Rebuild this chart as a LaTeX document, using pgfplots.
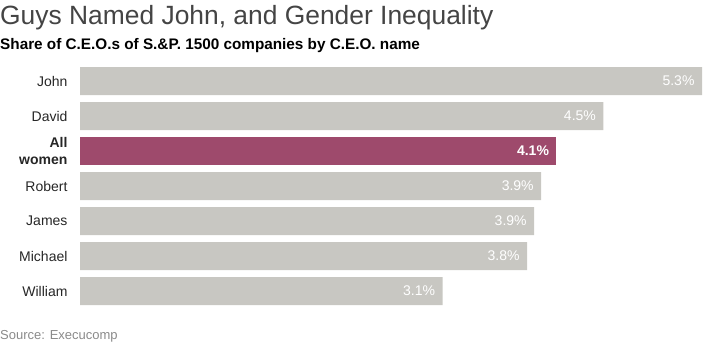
\documentclass[border=0pt]{standalone}
\usepackage{pgfplots}
\pgfplotsset{compat=1.18}
\usepackage{fontspec}
\setmainfont{Liberation Sans}
\definecolor{bargray}{HTML}{C8C7C2}
\definecolor{women}{HTML}{9E4A6C}
\definecolor{titlegray}{HTML}{444444}
\definecolor{srcgray}{HTML}{8A8A8A}
\begin{document}
\begin{tikzpicture}[x=1pt,y=1pt]
\path[use as bounding box] (0,0) rectangle (703,343);
\node[anchor=base west, inner sep=0pt, text=titlegray, font=\fontsize{26.4}{28}\selectfont] at (0,343-25) {Guys Named John, and Gender Inequality};
\node[anchor=base west, inner sep=0pt, font=\bfseries\fontsize{15.3}{17}\selectfont] at (0,343-50) {Share of C.E.O.s of S.\&P. 1500 companies by C.E.O. name};
\node[anchor=base west, inner sep=0pt, text=srcgray, font=\fontsize{13}{15}\selectfont] at (0,343-339) {Source: Execucomp};
\begin{axis}[
  at={(80pt,34.5pt)}, anchor=south west,
  scale only axis, width=622pt, height=245pt,
  xmin=0, xmax=5.3, ymin=-0.5, ymax=6.5,
  y dir=reverse,
  axis line style={draw=none},
  xtick=\empty,
  ytick={0,1,2,3,4,5,6},
  yticklabels={John,David,{\textbf{All}\\\textbf{women}},Robert,James,Michael,William},
  yticklabel style={font=\fontsize{14}{16.5}\selectfont, align=right, text=black!85, xshift=-9pt},
  major tick length=0pt,
  xbar, bar width=28pt, bar shift=0pt,
  clip=false,
  nodes near coords,
  nodes near coords style={anchor=east, text=white, font=\fontsize{14}{16}\selectfont, xshift=-4pt},
  point meta=explicit symbolic,
]
\addplot[fill=bargray, draw=none] coordinates {(5.30,0) [5.3\%] (4.46,1) [4.5\%] (3.93,3) [3.9\%] (3.87,4) [3.9\%] (3.81,5) [3.8\%] (3.09,6) [3.1\%]};
\addplot[fill=women, draw=none, nodes near coords style={font=\bfseries\fontsize{14}{16}\selectfont}] coordinates {(4.06,2) [4.1\%]};
\end{axis}
\end{tikzpicture}
\end{document}
